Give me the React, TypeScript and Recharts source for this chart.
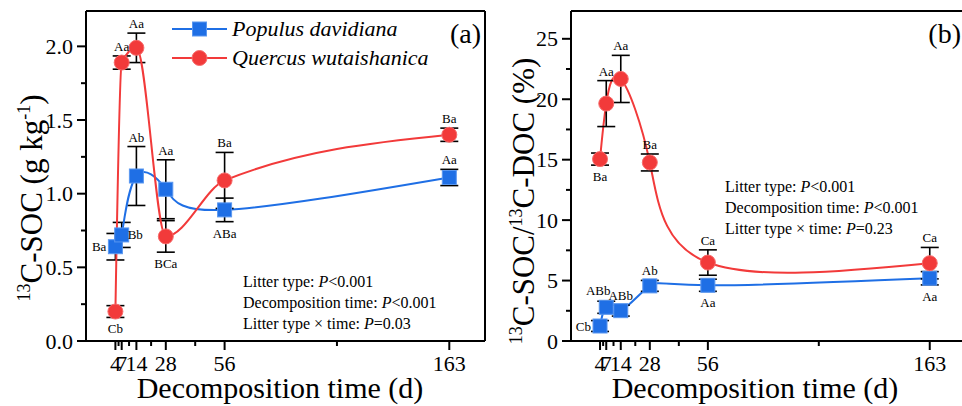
import React from "react";
import {
  ComposedChart,
  Line,
  XAxis,
  YAxis,
  ErrorBar,
  ReferenceLine,
  LabelList,
  Customized,
} from "recharts";

const FONT = '"Liberation Serif", "Times New Roman", serif';
const BLUE = "#1f6fe5";
const RED = "#f23a3a";

// sampling days (d) and the in-between minor ticks
const days = [4, 7, 14, 28, 56, 163];
const minorDays = [5.5, 10.5, 21, 42, 109.5];

// 13C-SOC (g kg-1)
const socPopulus = [0.64, 0.72, 1.12, 1.03, 0.89, 1.11];
const socPopulusSe = [0.09, 0.085, 0.2, 0.2, 0.08, 0.055];
const socQuercus = [0.2, 1.89, 1.99, 0.71, 1.09, 1.4];
const socQuercusSe = [0.04, 0.045, 0.1, 0.107, 0.19, 0.045];
const socPopulusLetters = ["Ba", "Bb", "Ab", "Aa", "ABa", "Aa"];
const socQuercusLetters = ["Cb", "Aa", "Aa", "BCa", "Ba", "Ba"];
const socPopulusSide = ["left", "right", "top", "top", "bottom", "top"];
const socQuercusSide = ["bottom", "top", "top", "bottom", "top", "top"];
const socMajor = [0, 0.5, 1, 1.5, 2];
const socMinor = [0.25, 0.75, 1.25, 1.75];

// 13C-SOC / 13C-DOC (%)
const ratioPopulus = [1.24, 2.79, 2.51, 4.56, 4.61, 5.19];
const ratioPopulusSe = [0.45, 0.5, 0.45, 0.45, 0.5, 0.55];
const ratioQuercus = [15.05, 19.64, 21.68, 14.77, 6.49, 6.44];
const ratioQuercusSe = [0.5, 1.9, 1.95, 0.7, 1.05, 1.3];
const ratioPopulusLetters = ["Cb", "ABb", "ABb", "Ab", "Aa", "Aa"];
const ratioQuercusLetters = ["Ba", "Aa", "Aa", "Ba", "Ca", "Ca"];
const ratioPopulusSide = ["left", "topleft", "top", "top", "bottom", "bottom"];
const ratioQuercusSide = ["bottom", "top", "top", "top", "top", "top"];
const ratioMajor = [0, 5, 10, 15, 20, 25];
const ratioMinor = [2.5, 7.5, 12.5, 17.5, 22.5];

type Side = string;

// letter anchors sit on the error bar end (top/bottom) or on the mean (left/right)
function anchor(v: number, se: number, side: Side) {
  if (side.startsWith("top")) return v + se;
  if (side === "bottom") return v - se;
  return v;
}

function buildRows(
  pd: number[],
  pdSe: number[],
  pdSide: Side[],
  qw: number[],
  qwSe: number[],
  qwSide: Side[]
) {
  return days.map((day, i) => ({
    day,
    pd: pd[i],
    pdSe: pdSe[i],
    pdLab: anchor(pd[i], pdSe[i], pdSide[i]),
    qw: qw[i],
    qwSe: qwSe[i],
    qwLab: anchor(qw[i], qwSe[i], qwSide[i]),
  }));
}

const socRows = buildRows(
  socPopulus,
  socPopulusSe,
  socPopulusSide,
  socQuercus,
  socQuercusSe,
  socQuercusSide
);
const ratioRows = buildRows(
  ratioPopulus,
  ratioPopulusSe,
  ratioPopulusSide,
  ratioQuercus,
  ratioQuercusSe,
  ratioQuercusSide
);

const Square = (props: any) => {
  const { cx, cy } = props;
  if (cx == null || cy == null) return null;
  return (
    <rect x={cx - 7} y={cy - 7} width={14} height={14} fill={BLUE} stroke="#5a97f0" strokeWidth={1} />
  );
};

const Dot = (props: any) => {
  const { cx, cy } = props;
  if (cx == null || cy == null) return null;
  return <circle cx={cx} cy={cy} r={7.5} fill={RED} stroke="#f76b6b" strokeWidth={1} />;
};

const XTick = (props: any) => {
  const { x, y, payload } = props;
  const major = days.includes(payload.value);
  return (
    <g>
      <line x1={x} x2={x} y1={y} y2={y + (major ? 9 : 5)} stroke="#000" strokeWidth={2} />
      {major && (
        <text x={x} y={y + 30} textAnchor="middle" fontFamily={FONT} fontSize={22} fill="#000">
          {payload.value}
        </text>
      )}
    </g>
  );
};

const makeYTick = (major: number[], digits: number) => (props: any) => {
  const { x, y, payload } = props;
  const isMajor = major.includes(payload.value);
  return (
    <g>
      <line x1={x - (isMajor ? 9 : 5)} x2={x} y1={y} y2={y} stroke="#000" strokeWidth={2} />
      {isMajor && (
        <text x={x - 13} y={y + 7.5} textAnchor="end" fontFamily={FONT} fontSize={22} fill="#000">
          {payload.value.toFixed(digits)}
        </text>
      )}
    </g>
  );
};

const makeLetters = (letters: string[], sides: Side[]) => (props: any) => {
  const { x, y, index } = props;
  if (x == null || y == null) return null;
  const side = sides[index];
  let tx = x;
  let ty = y;
  let anchorText: "start" | "middle" | "end" = "middle";
  if (side === "top") ty = y - 5;
  if (side === "topleft") {
    tx = x - 8;
    ty = y - 6;
  }
  if (side === "bottom") ty = y + 16;
  if (side === "left") {
    tx = x - 9;
    ty = y + 4.5;
    anchorText = "end";
  }
  if (side === "right") {
    tx = x + 6;
    ty = y + 4.5;
    anchorText = "start";
  }
  return (
    <text x={tx} y={ty} textAnchor={anchorText} fontFamily={FONT} fontSize={13} fill="#000">
      {letters[index]}
    </text>
  );
};

type StatLine = { label: string; rel: string };

const Stats = ({ x, y, lines }: { x: number; y: number; lines: StatLine[] }) => (
  <g>
    {lines.map((l, i) => (
      <text key={i} x={x} y={y + i * 21} fontFamily={FONT} fontSize={16} fill="#000">
        <tspan>{l.label}</tspan>
        <tspan fontStyle="italic">P</tspan>
        <tspan>{l.rel}</tspan>
      </text>
    ))}
  </g>
);

const Legend = () => (
  <g>
    <line x1={172} x2={227} y1={29} y2={29} stroke={BLUE} strokeWidth={2} />
    <Square cx={199.5} cy={29} />
    <text x={232} y={36} fontStyle="italic" fontFamily={FONT} fontSize={22} fill="#000">
      Populus davidiana
    </text>
    <line x1={172} x2={227} y1={58} y2={58} stroke={RED} strokeWidth={2} />
    <Dot cx={199.5} cy={58} />
    <text x={232} y={65} fontStyle="italic" fontFamily={FONT} fontSize={22} fill="#000">
      Quercus wutaishanica
    </text>
  </g>
);

const XTitle = ({ cx }: { cx: number }) => (
  <text x={cx} y={398} textAnchor="middle" fontFamily={FONT} fontSize={30} fill="#000">
    Decomposition time (d)
  </text>
);

type PanelProps = {
  rows: any[];
  yDomain: [number, number];
  yMajor: number[];
  yMinor: number[];
  digits: number;
  pdLetters: string[];
  pdSides: Side[];
  qwLetters: string[];
  qwSides: Side[];
  qwCurve: "natural" | "monotoneX";
  errorsOnTop: boolean;
  marginLeft: number;
  overlay: React.ReactNode;
};

function Panel(p: PanelProps) {
  const errLine = (key: string, seKey: string) => (
    <Line
      dataKey={key}
      stroke="none"
      dot={false}
      activeDot={false}
      legendType="none"
      isAnimationActive={false}
    >
      <ErrorBar dataKey={seKey} direction="y" width={9} stroke="#000" strokeWidth={1.6} />
    </Line>
  );
  return (
    <ComposedChart
      width={490}
      height={406}
      data={p.rows}
      margin={{ top: 11, right: 5, bottom: 35, left: p.marginLeft }}
    >
      <XAxis
        dataKey="day"
        type="number"
        domain={[-10, 180]}
        allowDataOverflow
        ticks={[...days, ...minorDays].sort((a, b) => a - b)}
        interval={0}
        tick={<XTick />}
        tickLine={false}
        tickSize={0}
        tickMargin={0}
        axisLine={{ stroke: "#000", strokeWidth: 2 }}
        height={30}
      />
      <YAxis
        type="number"
        domain={p.yDomain}
        allowDataOverflow
        ticks={[...p.yMajor, ...p.yMinor].sort((a, b) => a - b)}
        interval={0}
        tick={makeYTick(p.yMajor, p.digits)}
        tickLine={false}
        tickSize={0}
        tickMargin={0}
        axisLine={{ stroke: "#000", strokeWidth: 2 }}
        width={60}
      />
      <ReferenceLine y={p.yDomain[1]} stroke="#000" strokeWidth={2} />
      <ReferenceLine x={180} stroke="#000" strokeWidth={2} />

      <Line
        dataKey="pd"
        type="natural"
        stroke={BLUE}
        strokeWidth={2}
        dot={<Square />}
        activeDot={false}
        isAnimationActive={false}
      >
        {!p.errorsOnTop && (
          <ErrorBar dataKey="pdSe" direction="y" width={9} stroke="#000" strokeWidth={1.6} />
        )}
      </Line>
      {p.errorsOnTop && errLine("pd", "pdSe")}
      <Line
        dataKey="qw"
        type={p.qwCurve}
        stroke={RED}
        strokeWidth={2}
        dot={<Dot />}
        activeDot={false}
        isAnimationActive={false}
      >
        {!p.errorsOnTop && (
          <ErrorBar dataKey="qwSe" direction="y" width={9} stroke="#000" strokeWidth={1.6} />
        )}
      </Line>
      {p.errorsOnTop && errLine("qw", "qwSe")}

      <Line dataKey="pdLab" stroke="none" dot={false} activeDot={false} isAnimationActive={false}>
        <LabelList dataKey="pdLab" content={makeLetters(p.pdLetters, p.pdSides)} />
      </Line>
      <Line dataKey="qwLab" stroke="none" dot={false} activeDot={false} isAnimationActive={false}>
        <LabelList dataKey="qwLab" content={makeLetters(p.qwLetters, p.qwSides)} />
      </Line>

      <Customized component={() => <g>{p.overlay}</g>} />
    </ComposedChart>
  );
}

export default function App() {
  return (
    <div
      style={{
        position: "fixed",
        left: 0,
        top: 0,
        width: 962,
        height: 406,
        overflow: "hidden",
        background: "#fff",
      }}
    >
      <div style={{ position: "absolute", left: 0, top: 0 }}>
        <Panel
          rows={socRows}
          yDomain={[0, 2.24]}
          yMajor={socMajor}
          yMinor={socMinor}
          digits={1}
          pdLetters={socPopulusLetters}
          pdSides={socPopulusSide}
          qwLetters={socQuercusLetters}
          qwSides={socQuercusSide}
          qwCurve="monotoneX"
          errorsOnTop={false}
          marginLeft={26}
          overlay={
            <g>
              <Legend />
              <text x={481} y={43} textAnchor="end" fontFamily={FONT} fontSize={28} fill="#000">
                (a)
              </text>
              <Stats
                x={243}
                y={287}
                lines={[
                  { label: "Litter type: ", rel: "<0.001" },
                  { label: "Decomposition time: ", rel: "<0.001" },
                  { label: "Litter type × time: ", rel: "=0.03" },
                ]}
              />
              <text
                transform="translate(42,198) rotate(-90)"
                textAnchor="middle"
                fontFamily={FONT}
                fontSize={31}
                fill="#000"
              >
                <tspan fontSize={18} dy={-12}>13</tspan>
                <tspan dy={12}>C-SOC (g kg</tspan>
                <tspan fontSize={18} dy={-12}>-1</tspan>
                <tspan dy={12}>)</tspan>
              </text>
              <XTitle cx={280} />
            </g>
          }
        />
      </div>
      <div style={{ position: "absolute", left: 480, top: 0 }}>
        <Panel
          rows={ratioRows}
          yDomain={[0, 27.3]}
          yMajor={ratioMajor}
          yMinor={ratioMinor}
          digits={0}
          pdLetters={ratioPopulusLetters}
          pdSides={ratioPopulusSide}
          qwLetters={ratioQuercusLetters}
          qwSides={ratioQuercusSide}
          qwCurve="natural"
          errorsOnTop={true}
          marginLeft={31}
          overlay={
            <g>
              <text x={481} y={43} textAnchor="end" fontFamily={FONT} fontSize={28} fill="#000">
                (b)
              </text>
              <Stats
                x={245}
                y={192}
                lines={[
                  { label: "Litter type: ", rel: "<0.001" },
                  { label: "Decomposition time: ", rel: "<0.001" },
                  { label: "Litter type × time: ", rel: "=0.23" },
                ]}
              />
              <text
                transform="translate(54,201) rotate(-90)"
                textAnchor="middle"
                fontFamily={FONT}
                fontSize={31}
                fill="#000"
              >
                <tspan fontSize={18} dy={-12}>13</tspan>
                <tspan dy={12}>C-SOC/</tspan>
                <tspan fontSize={18} dy={-12}>13</tspan>
                <tspan dy={12}>C-DOC (%)</tspan>
              </text>
              <XTitle cx={275} />
            </g>
          }
        />
      </div>
    </div>
  );
}
